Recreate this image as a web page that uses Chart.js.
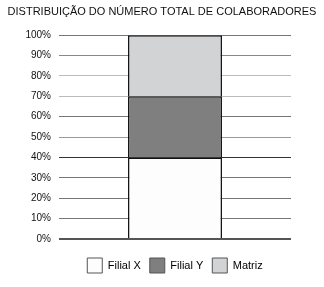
<!DOCTYPE html>
<html>
<head>
<meta charset="utf-8">
<script src="https://cdn.jsdelivr.net/npm/chart.js@4"></script>
<style>
  html, body { margin: 0; padding: 0; background: #fff; }
  #wrap { width: 324px; height: 287px; }
</style>
</head>
<body>
<div id="wrap"><canvas id="chart" width="324" height="287"></canvas></div>
<script>
// valores (% do total)
const categories = ["Total"];
const seriesNames = ["Filial X", "Filial Y", "Matriz"];
const filialX = [40];
const filialY = [30];
const matriz = [30];
const tickValues = [0, 10, 20, 30, 40, 50, 60, 70, 80, 90, 100];

const fills = ["#fdfdfd", "#7f7f7f", "#d2d3d5"];

// cor de cada linha de grade, de 0% a 100%
const gridColors = ["#555", "#777", "#777", "#777", "#333", "#999", "#777", "#bbb", "#bbb", "#888", "#777"];

const font = "'Liberation Sans', Arial, sans-serif";
const ctx = document.getElementById("chart").getContext("2d");

new Chart(ctx, {
  type: "bar",
  data: {
    labels: categories,
    datasets: [filialX, filialY, matriz].map((vals, i) => ({
      label: seriesNames[i],
      data: vals,
      backgroundColor: fills[i],
      borderColor: "#111",
      borderWidth: 1.5,
      barPercentage: 0.81,
      categoryPercentage: 0.5,
    })),
  },
  options: {
    responsive: false,
    animation: false,
    layout: { padding: { left: 0, right: 0, top: 0, bottom: 4 } },
    scales: {
      x: {
        stacked: true,
        display: true,
        grid: { display: false },
        border: { display: false },
        ticks: { display: false },
        afterFit: (axis) => { axis.height = 10; },
      },
      y: {
        stacked: true,
        min: 0,
        max: 100,
        afterBuildTicks: (axis) => {
          axis.ticks = tickValues.map((v) => ({ value: v }));
        },
        afterFit: (axis) => { axis.width = 59; },
        border: { display: false },
        grid: {
          drawTicks: false,
          color: (c) => gridColors[c.index] ?? "#777",
          lineWidth: (c) => (c.index === 0 ? 2 : 1),
        },
        ticks: {
          padding: 8,
          color: "#111",
          font: { family: font, size: 10 },
          callback: (v) => v + "%",
        },
      },
      // eixo vazio só para reservar a margem direita
      yRight: {
        position: "right",
        display: true,
        min: 0,
        max: 100,
        grid: { display: false },
        border: { display: false },
        ticks: { display: false },
        afterFit: (axis) => { axis.width = 33; },
      },
    },
    plugins: {
      title: {
        display: true,
        text: "DISTRIBUIÇÃO DO NÚMERO TOTAL DE COLABORADORES",
        color: "#111",
        font: { family: font, size: 11, weight: "normal" },
        padding: { top: 5, bottom: 17 },
      },
      legend: {
        position: "bottom",
        fullSize: false,
        labels: {
          boxWidth: 15,
          boxHeight: 15,
          padding: 9,
          color: "#111",
          font: { family: font, size: 11 },
          generateLabels: (chart) =>
            chart.data.datasets.map((ds, i) => ({
              text: ds.label,
              fillStyle: ds.backgroundColor,
              strokeStyle: "#555",
              lineWidth: 1,
              datasetIndex: i,
            })),
        },
      },
      tooltip: { enabled: false },
    },
  },
});
</script>
</body>
</html>
